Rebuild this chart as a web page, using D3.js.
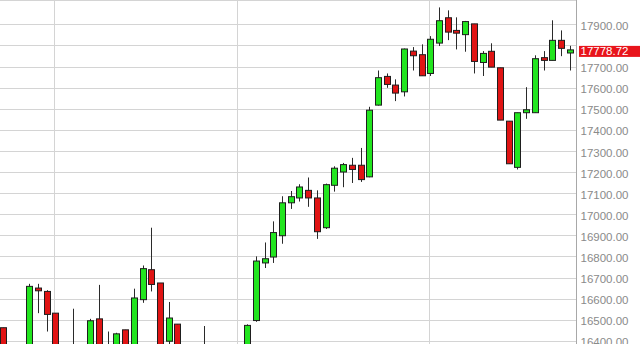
<!DOCTYPE html>
<html><head><meta charset="utf-8">
<script src="https://cdn.jsdelivr.net/npm/d3@7"></script>
<style>html,body{margin:0;padding:0;background:#fff;}svg{display:block;}</style>
</head><body>
<svg id="c" width="640" height="344"></svg>
<script>
const opens  = [16462,16360,16320,16340,16650,16634,16531,16360,16380,16330,16300,16504,16370,16340,16452,16360,16595,16737,16674,16398,16479,16350,16320,16290,16330,16300,16340,16350,16370,16496,16769,16797,16898,17054,17077,17113,17077,16936,17137,17200,17232,17232,17177,17517,17653,17612,17580,17773,17756,17667,17811,17931,17871,17851,17902,17719,17772,17694,17441,17222,17481,17481,17742,17729,17824,17764];
const highs  = [16462,16380,16370,16670,16670,16640,16531,16380,16552,16370,16504,16665,16444,16438,16452,16647,16757,16936,16674,16584,16479,16380,16360,16470,16370,16350,16375,16380,16478,16800,16866,16966,17085,17110,17142,17174,17113,17145,17227,17243,17267,17314,17509,17681,17667,17639,17785,17792,17805,17844,17980,17966,17933,17916,17902,17773,17810,17694,17441,17481,17602,17753,17773,17919,17871,17798];
const lows   = [16330,16300,16290,16320,16531,16444,16330,16280,16290,16260,16280,16340,16300,16320,16330,16340,16580,16634,16330,16370,16330,16300,16250,16240,16280,16260,16300,16310,16350,16490,16745,16769,16860,17025,17060,17035,16883,16930,17107,17128,17148,17153,17175,17515,17599,17536,17558,17681,17656,17655,17797,17825,17781,17770,17667,17655,17697,17446,17239,17212,17452,17481,17681,17729,17749,17681];
const closes = [16350,16320,16350,16658,16637,16525,16360,16300,16330,16300,16495,16360,16340,16433,16350,16603,16742,16667,16360,16508,16350,16320,16280,16340,16300,16340,16360,16370,16473,16778,16789,16913,17054,17083,17129,17077,16917,17140,17218,17235,17212,17164,17493,17647,17615,17574,17783,17751,17656,17829,17917,17863,17858,17913,17724,17762,17697,17446,17239,17481,17495,17737,17729,17824,17786,17778.72];
const gridValues = [16400,16500,16600,16700,16800,16900,17000,17100,17200,17300,17400,17500,17600,17700,17800,17900];
const tickLabels = [16400,16500,16600,16700,16800,16900,17000,17100,17200,17300,17400,17500,17600,17700,17900];
const separatorIdx = [6, 27, 49];
const lastPrice = 17778.72;

const W = 640, H = 344, axisX = 576;
const svg = d3.select("#c");
const n = opens.length;
const x = d3.scaleLinear().domain([0, n - 1]).range([3, 569.8]);
const y = d3.scaleLinear().domain([16400, 17900]).range([340.8, 24.3]);
const crisp = v => Math.round(v) + 0.5;

svg.append("defs").append("clipPath").attr("id","plot")
  .append("rect").attr("x",0).attr("y",0).attr("width",axisX).attr("height",H);

const plot = svg.append("g").attr("clip-path","url(#plot)");

plot.append("line").attr("x1",0).attr("x2",axisX).attr("y1",0.5).attr("y2",0.5)
  .attr("stroke","#d4d4d4");

plot.selectAll("line.hg").data(gridValues).join("line").attr("class","hg")
  .attr("x1",0).attr("x2",axisX)
  .attr("y1",d=>crisp(y(d))).attr("y2",d=>crisp(y(d)))
  .attr("stroke","#d4d4d4").attr("stroke-width",1);

plot.selectAll("line.vg").data(separatorIdx).join("line").attr("class","vg")
  .attr("x1",d=>crisp(x(d)-1)).attr("x2",d=>crisp(x(d)-1))
  .attr("y1",0).attr("y2",H)
  .attr("stroke","#d4d4d4").attr("stroke-width",1);

const idx = d3.range(n);
plot.selectAll("line.wick").data(idx).join("line").attr("class","wick")
  .attr("x1",i=>crisp(x(i))).attr("x2",i=>crisp(x(i)))
  .attr("y1",i=>y(highs[i])).attr("y2",i=>y(lows[i]))
  .attr("stroke","#2a2a2a").attr("stroke-width",1);

const bw = 6;
plot.selectAll("rect.body").data(idx).join("rect").attr("class","body")
  .attr("x",i=>Math.round(x(i)) - bw/2 + 0.5)
  .attr("y",i=>y(Math.max(opens[i],closes[i])))
  .attr("width",bw)
  .attr("height",i=>Math.max(1.5, Math.abs(y(opens[i]) - y(closes[i]))))
  .attr("fill",i=>closes[i] >= opens[i] ? "#22e51f" : "#e01414")
  .attr("stroke","#1e1e1e").attr("stroke-width",1);

const axis = d3.axisRight(y).tickValues(tickLabels).tickFormat(d3.format(".2f")).tickSize(0).tickPadding(4);
const ag = svg.append("g").attr("transform",`translate(${axisX + 0.5},0)`).call(axis);
ag.select(".domain").attr("stroke","#a8a8a8").attr("d",`M0,0V${H}`);
ag.selectAll("text").attr("fill","#8a8a8a").attr("font-family","'Liberation Sans', Arial, sans-serif")
  .attr("font-size","11.5px").attr("dy","0.45em");

const ly = y(lastPrice);
svg.append("rect").attr("x",579).attr("y",ly - 4).attr("width",61).attr("height",11).attr("fill","#e8141b");
svg.append("text").attr("x",580.5).attr("y",ly + 5.5).text(d3.format(".2f")(lastPrice))
  .attr("fill","#ffffff").attr("font-family","'Liberation Sans', Arial, sans-serif").attr("font-size","11.5px");
</script>
</body></html>
